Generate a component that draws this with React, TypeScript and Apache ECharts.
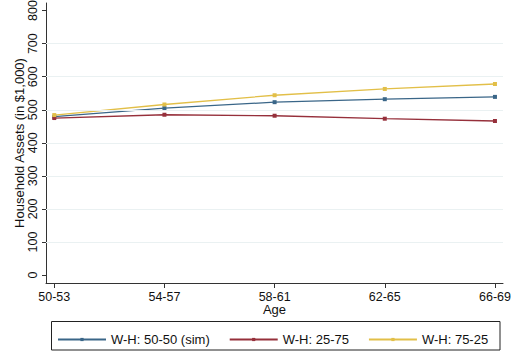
import React, { useEffect, useRef } from "react";
import * as echarts from "echarts";

// Age groups on the x axis
const ages = ["50-53", "54-57", "58-61", "62-65", "66-69"];
// Household assets (in $1,000) by wife–husband split
const sim5050 = [479, 505, 523, 532, 539];
const wh2575 = [475, 485, 482, 473, 466];
const wh7525 = [484, 516, 544, 563, 578];
// Y ticks and gridlines
const yTicks = [0, 100, 200, 300, 400, 500, 600, 700, 800];
const yGrid = [100, 200, 300, 400, 500, 600, 700];

const FONT = "'Liberation Sans', Arial, Helvetica, sans-serif";
const BLUE = "#3a6688";
const RED = "#96303b";
const GOLD = "#e2bf48";

const toPairs = (vals: number[]) => vals.map((v, i) => [i, v]);

export default function App() {
  const ref = useRef<HTMLDivElement>(null);

  useEffect(() => {
    if (!ref.current) return;
    const chart = echarts.init(ref.current, undefined, { renderer: "svg" });

    const lineSeries = (name: string, vals: number[], color: string) => ({
      name,
      type: "line",
      data: toPairs(vals),
      symbol: "rect",
      symbolSize: 4,
      z: 3,
      lineStyle: { color, width: 1.3 },
      itemStyle: { color },
    });

    chart.setOption({
      animation: false,
      backgroundColor: "#ffffff",
      textStyle: { fontFamily: FONT },
      grid: {
        left: 46,
        right: 13,
        top: 3,
        bottom: 73,
        containLabel: false,
        outerBoundsMode: "none",
      },
      xAxis: {
        type: "value",
        min: -0.075,
        max: 4.073,
        name: "Age",
        nameLocation: "middle",
        nameGap: 20,
        nameMoveOverlap: false,
        nameTextStyle: { fontSize: 13, color: "#111", fontFamily: FONT },
        axisLine: { show: true, onZero: false, lineStyle: { color: "#333", width: 1 } },
        axisTick: {
          show: true,
          length: 5,
          customValues: [0, 1, 2, 3, 4],
          lineStyle: { color: "#333" },
        },
        axisLabel: {
          customValues: [0, 1, 2, 3, 4],
          formatter: (v: number) => ages[Math.round(v)] ?? "",
          fontSize: 12.5,
          color: "#111",
          margin: 7,
          fontFamily: FONT,
        },
        splitLine: { show: false },
      },
      yAxis: {
        type: "value",
        min: -24,
        max: 823,
        name: "Household Assets (in $1,000)",
        nameLocation: "middle",
        nameRotate: 90,
        nameGap: 20,
        nameMoveOverlap: false,
        nameTextStyle: { fontSize: 13, color: "#111", fontFamily: FONT },
        axisLine: { show: true, onZero: false, lineStyle: { color: "#333", width: 1 } },
        axisTick: {
          show: true,
          length: 4,
          customValues: yTicks,
          lineStyle: { color: "#333" },
        },
        axisLabel: {
          customValues: yTicks,
          rotate: 90,
          fontSize: 12.5,
          color: "#111",
          margin: 7,
          fontFamily: FONT,
        },
        splitLine: { show: false },
      },
      legend: {
        left: 57,
        top: 333,
        orient: "horizontal",
        data: ["W-H: 50-50 (sim)", "W-H: 25-75", "W-H: 75-25"],
        itemWidth: 48,
        itemHeight: 4,
        itemGap: 19,
        padding: 0,
        textStyle: { fontSize: 13, color: "#111", fontFamily: FONT },
      },
      // frame around the legend
      graphic: [
        {
          type: "rect",
          silent: true,
          shape: { x: 51.5, y: 321.5, width: 448.5, height: 28.5 },
          style: { fill: "none", stroke: "#222", lineWidth: 1 },
        },
      ],
      series: [
        {
          type: "line",
          data: [],
          z: 1,
          silent: true,
          markLine: {
            silent: true,
            symbol: "none",
            label: { show: false },
            lineStyle: { color: "#eaf1f2", width: 1.2, type: "solid" },
            data: yGrid.map((v) => ({ yAxis: v })),
          },
        },
        lineSeries("W-H: 50-50 (sim)", sim5050, BLUE),
        lineSeries("W-H: 25-75", wh2575, RED),
        lineSeries("W-H: 75-25", wh7525, GOLD),
      ],
    });

    return () => chart.dispose();
  }, []);

  return (
    <div
      ref={ref}
      style={{ position: "fixed", left: 0, top: 0, width: 516, height: 356 }}
    />
  );
}
